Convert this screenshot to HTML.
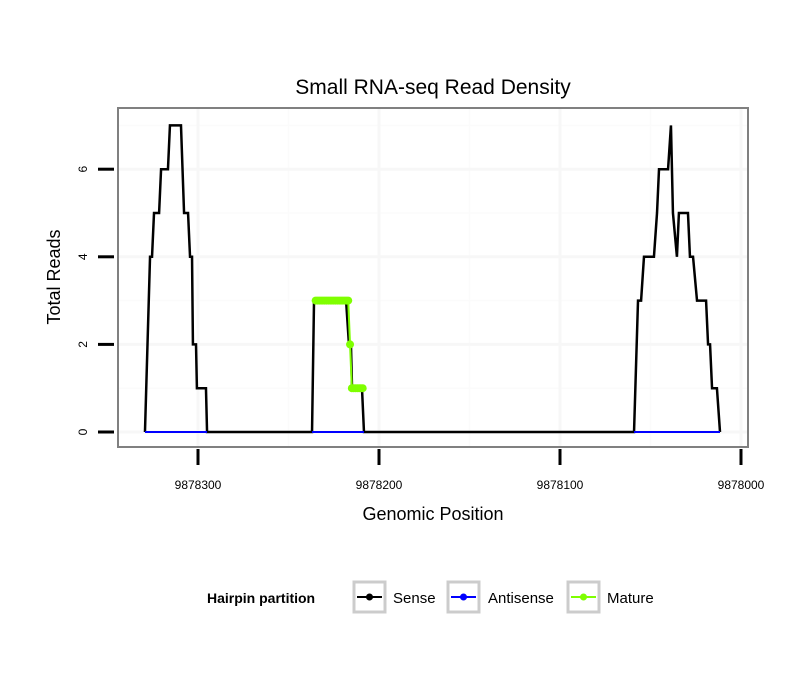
<!DOCTYPE html>
<html><head><meta charset="utf-8"><style>
body{margin:0;background:#fff;}
svg text{font-family:"Liberation Sans",sans-serif;}
</style></head><body>
<svg width="810" height="690" viewBox="0 0 810 690">
<rect width="810" height="690" fill="#fff"/>
<text x="433" y="94" font-size="21" text-anchor="middle">Small RNA-seq Read Density</text>
<g id="grid"></g>
<g id="series"></g>
<rect x="118" y="108" width="630" height="339" fill="none" stroke="#808080" stroke-width="2"/>
<g id="axes"></g>
<text x="433" y="520" font-size="18" text-anchor="middle">Genomic Position</text>
<text transform="translate(60,277) rotate(-90)" font-size="18" text-anchor="middle">Total Reads</text>
<g>
<text x="207" y="603" font-size="14" font-weight="bold">Hairpin partition</text>
<g><rect x="354" y="582" width="31" height="30" fill="#fff" stroke="#ccc" stroke-width="3"/><line x1="357" y1="597" x2="382" y2="597" stroke="#000" stroke-width="2"/><circle cx="369.5" cy="597" r="3.5" fill="#000"/><text x="393" y="603" font-size="15">Sense</text></g>
<g><rect x="448" y="582" width="31" height="30" fill="#fff" stroke="#ccc" stroke-width="3"/><line x1="451" y1="597" x2="476" y2="597" stroke="#0000ff" stroke-width="2"/><circle cx="463.5" cy="597" r="3.5" fill="#0000ff"/><text x="488" y="603" font-size="15">Antisense</text></g>
<g><rect x="568" y="582" width="31" height="30" fill="#fff" stroke="#ccc" stroke-width="3"/><line x1="571" y1="597" x2="596" y2="597" stroke="#7fff00" stroke-width="2"/><circle cx="583.5" cy="597" r="3.5" fill="#7fff00"/><text x="607" y="603" font-size="15">Mature</text></g>
</g>
</svg>
<script>
// offsets from 9878000
const senseX=[329.3,326.5,325.4,324.3,321.5,320.4,316.6,315.5,309.4,307.7,305.5,304.4,303.3,302.8,301.1,300.6,295.6,295.0,237.0,235.9,218.2,216.6,215.5,214.9,209.4,208.3,59.1,56.9,55.2,53.6,48.1,46.4,45.3,40.3,38.7,37.6,35.4,34.3,29.3,28.2,26.5,24.3,19.3,18.2,17.1,16.0,13.3,11.6];
const senseY=[0,4,4,5,5,6,6,7,7,5,5,4,4,2,2,1,1,0,0,3,3,2,2,1,1,0,0,3,3,4,4,5,6,6,7,5,4,5,5,4,4,3,3,2,2,1,1,0];
const antiX=[[329.3,295.0],[237.0,208.3],[59.1,11.6]];
const matureX=[235,234,233,232,231,230,229,228,227,226,225,224,223,222,221,220,219,218,217,216,215,214,213,212,211,210,209];
const matureY=[3,3,3,3,3,3,3,3,3,3,3,3,3,3,3,3,3,3,3,2,1,1,1,1,1,1,1];
const xTicks=[300,200,100,0];
const xTickLabels=["9878300","9878200","9878100","9878000"];
const yTicks=[0,2,4,6];
const NS="http://www.w3.org/2000/svg";
const sx=v=>198+(300-v)*1.81;
const sy=v=>432-v*43.8;
function mk(t,a,p){const e=document.createElementNS(NS,t);for(const k in a)e.setAttribute(k,a[k]);p.appendChild(e);return e;}
const grid=document.getElementById('grid'),ser=document.getElementById('series'),ax=document.getElementById('axes');
mk('rect',{x:118,y:108,width:630,height:339,fill:'#fff'},grid);
[350,250,150,50,-50].forEach(v=>{const x=sx(v);if(x>118&&x<748){const l=mk('line',{x1:x,x2:x,y1:108,y2:447,stroke:'#fbfbfb','stroke-width':1.5},grid);}});
[1,3,5,7].forEach(v=>{const l=mk('line',{x1:118,x2:748,y1:sy(v),y2:sy(v),stroke:'#fbfbfb','stroke-width':1.5},grid);});
xTicks.forEach((v,i)=>{const x=sx(v);
const g=mk('line',{x1:x,x2:x,y1:108,y2:447,stroke:'#f7f7f7','stroke-width':3},grid);
const t=mk('line',{x1:x,x2:x,y1:449,y2:465,stroke:'#000','stroke-width':3},ax);
const tx=mk('text',{x:x,y:489,'font-size':12,'text-anchor':'middle'},ax);tx.textContent=xTickLabels[i];});
yTicks.forEach(v=>{const y=sy(v);
const g=mk('line',{x1:118,x2:748,y1:y,y2:y,stroke:'#f7f7f7','stroke-width':3},grid);
const t=mk('line',{x1:98,x2:114,y1:y,y2:y,stroke:'#000','stroke-width':3},ax);
const tx=mk('text',{transform:`translate(87,${y}) rotate(-90)`,'font-size':12,'text-anchor':'middle'},ax);tx.textContent=String(v);});
const sp=mk('polyline',{points:senseX.map((x,i)=>sx(x)+','+sy(senseY[i])).join(' '),fill:'none',stroke:'#000','stroke-width':2.5,'stroke-linejoin':'miter'},ser);


antiX.forEach(s=>{const l=mk('line',{x1:sx(s[0]),x2:sx(s[1]),y1:sy(0),y2:sy(0),stroke:'#0000ff','stroke-width':2},ser);

});
const mp=mk('polyline',{points:matureX.map((x,i)=>sx(x)+','+sy(matureY[i])).join(' '),fill:'none',stroke:'#7fff00','stroke-width':2},ser);


matureX.forEach((x,i)=>{const c=mk('circle',{cx:sx(x),cy:sy(matureY[i]),r:4,fill:'#7fff00'},ser);

});
</script>
</body></html>
